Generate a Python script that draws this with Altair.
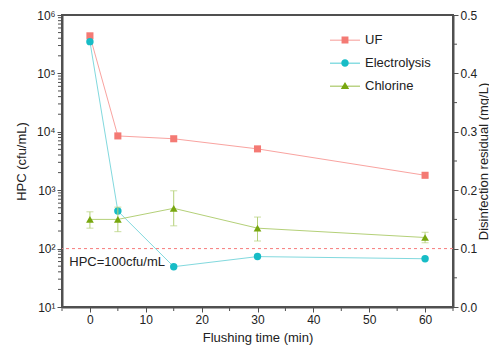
import altair as alt
import pandas as pd

# ---- data ----
time = [0, 5, 15, 30, 60]
uf = [4.4e5, 8.5e3, 7.6e3, 5.1e3, 1.8e3]
electrolysis = [3.5e5, 440, 49, 73, 67]
chlorine = [0.150, 0.150, 0.169, 0.135, 0.119]
chlorine_lo = [0.135, 0.129, 0.139, 0.113, 0.110]
chlorine_hi = [0.163, 0.171, 0.199, 0.154, 0.128]

series = ["UF", "Electrolysis", "Chlorine"]
point_colors = ["#f47a74", "#17bcc6", "#78a70f"]
line_colors = ["#f9a3a0", "#82d9de", "#b4d078"]
shapes = ["square", "circle", "triangle-up"]
# legend glyphs: a short line with the marker on it ([-1, 1] symbol space)
legend_glyphs = [
    "M-1,-0.025H1V0.025H-1Z M-0.23,-0.23H0.23V0.23H-0.23Z",
    "M-1,-0.025H1V0.025H-1Z M0.25,0A0.25,0.25 0 1,1 -0.25,0A0.25,0.25 0 1,1 0.25,0Z",
    "M-1,-0.025H1V0.025H-1Z M0,-0.26L0.28,0.2H-0.28Z",
]

threshold = [100]
threshold_label = ["HPC=100cfu/mL"]
threshold_label_at = [-3.7, 60]

x_major = [0, 10, 20, 30, 40, 50, 60]
x_minor = [-5, 5, 15, 25, 35, 45, 55, 65]
hpc_major = [10, 100, 1000, 10000, 100000, 1000000]
hpc_minor = [k * 10 ** d for d in range(1, 6) for k in range(2, 10)]
res_major = [0, 0.1, 0.2, 0.3, 0.4, 0.5]
res_minor = [0.05, 0.15, 0.25, 0.35, 0.45]

FONT = "Liberation Sans"
AX = "#505050"
W, H = 391, 292

hpc = pd.DataFrame({
    "time": time * 2,
    "value": uf + electrolysis,
    "series": ["UF"] * len(time) + ["Electrolysis"] * len(time),
})
cl = pd.DataFrame({
    "time": time, "value": chlorine, "lo": chlorine_lo, "hi": chlorine_hi,
    "series": ["Chlorine"] * len(time),
})
thr = pd.DataFrame({"value": threshold})
lab = pd.DataFrame({"time": [threshold_label_at[0]], "value": [threshold_label_at[1]],
                    "label": threshold_label})
xmin_df = pd.DataFrame({"time": x_minor})
lmin_df = pd.DataFrame({"value": hpc_minor})
rmin_df = pd.DataFrame({"value": res_minor})

x_scale = alt.Scale(domain=[-5, 65], nice=False, zero=False)
left_scale = alt.Scale(type="log", domain=[10, 1e6], nice=False)
right_scale = alt.Scale(domain=[0, 0.5], nice=False, zero=True)

common = dict(labelOverlap=False, labelFlush=False, grid=False, tickSize=5)

x_axis = alt.Axis(values=x_major, title="Flushing time (min)", titlePadding=6, **common)
left_axis = alt.Axis(
    values=hpc_major, title="HPC (cfu/mL)", titlePadding=8,
    labelExpr="'10' + ['⁰','¹','²','³','⁴','⁵','⁶','⁷'][round(log(datum.value)/LN10)]",
    **common)
right_axis = alt.Axis(
    values=res_major, orient="right", title="Disinfection residual (mg/L)", format=".1f",
    titleAngle=270, titleBaseline="top", titlePadding=1, **common)


def X():
    return alt.X("time:Q", scale=x_scale, axis=x_axis, title="Flushing time (min)")


def YL():
    return alt.Y("value:Q", scale=left_scale, axis=left_axis, title="HPC (cfu/mL)")


def YR(field="value"):
    return alt.Y(field + ":Q", scale=right_scale, axis=right_axis,
                 title="Disinfection residual (mg/L)")


legend = alt.Legend(
    title=None, orient="none", legendX=267, legendY=9,
    labelFont=FONT, labelFontSize=13, labelColor="#222", labelOffset=4,
    symbolSize=900, symbolOpacity=1, rowPadding=-0.5,
)
legend_layer = alt.Chart(hpc).mark_point(filled=True, size=0).encode(
    x=X(), y=YL(),
    color=alt.Color("series:N", scale=alt.Scale(domain=series, range=point_colors), legend=legend),
    shape=alt.Shape("series:N", scale=alt.Scale(domain=series, range=legend_glyphs), legend=legend),
)

# minor ticks, placed by the scales just outside the frame
x_minor_ticks = alt.Chart(xmin_df).mark_rule(color=AX, strokeWidth=1).encode(
    x=X(), y=alt.value(H + 1), y2=alt.value(H + 4))
l_minor_ticks = alt.Chart(lmin_df).mark_rule(color=AX, strokeWidth=1).encode(
    y=YL(), x=alt.value(-1), x2=alt.value(-4))
r_minor_ticks = alt.Chart(rmin_df).mark_rule(color=AX, strokeWidth=1).encode(
    y=YR(), x=alt.value(W + 1), x2=alt.value(W + 4))

rule = alt.Chart(thr).mark_rule(color="#f77b7b", strokeDash=[3, 3], strokeWidth=1).encode(y=YL())
text = alt.Chart(lab).mark_text(align="left", baseline="middle", font=FONT, fontSize=13,
                                color="#222").encode(x=X(), y=YL(), text="label:N")


def line(df, name, y):
    i = series.index(name)
    return alt.Chart(df).transform_filter(alt.datum.series == name).mark_line(
        strokeWidth=1, color=line_colors[i]).encode(x=X(), y=y)


def pts(df, name, y, size):
    i = series.index(name)
    return alt.Chart(df).transform_filter(alt.datum.series == name).mark_point(
        filled=True, size=size, opacity=1, shape=shapes[i], color=point_colors[i]
    ).encode(x=X(), y=y)


cl_err = alt.Chart(cl).mark_errorbar(ticks=True, size=7, thickness=1, color="#b4d078").encode(
    x=X(), y=YR("lo"), y2="hi:Q")

left = alt.layer(
    rule, text, x_minor_ticks, l_minor_ticks,
    line(hpc, "UF", YL()), line(hpc, "Electrolysis", YL()),
    pts(hpc, "UF", YL(), 50), pts(hpc, "Electrolysis", YL(), 55), legend_layer)
right = alt.layer(cl_err, r_minor_ticks, line(cl, "Chlorine", YR()), pts(cl, "Chlorine", YR(), 60))

chart = alt.layer(left, right).resolve_scale(y="independent").properties(
    width=W, height=H,
    padding={"left": 54, "top": 7, "right": 36, "bottom": 39},
    autosize="none",
).configure_view(stroke=AX, strokeWidth=2).configure_axis(
    domainColor=AX, domainWidth=2, tickColor=AX, tickWidth=1,
    labelFont=FONT, labelFontSize=12, labelColor="#222",
    titleFont=FONT, titleFontSize=13, titleFontWeight="normal", titleColor="#222",
)

chart.save("out.html", embed_options={"renderer": "svg", "actions": False})
